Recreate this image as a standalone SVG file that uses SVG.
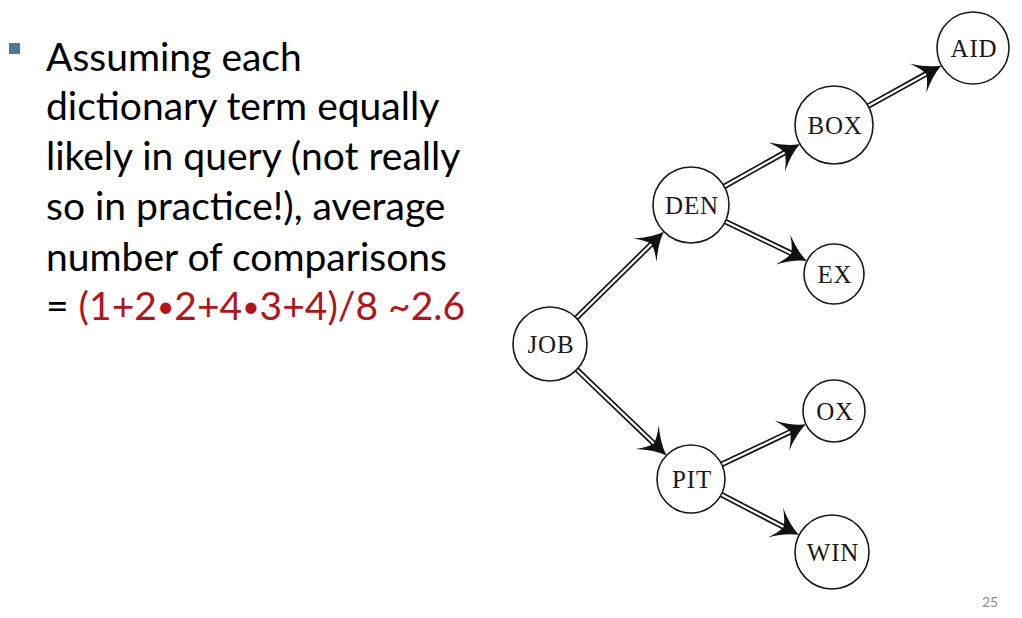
<svg xmlns="http://www.w3.org/2000/svg" width="1022" height="618" viewBox="0 0 1022 618">
<style>
.body{font-family:Lato,"Open Sans",sans-serif;font-size:39px;fill:#000}
.red{fill:#b0161c}
.dot{font-size:30px;baseline-shift:3px}
.node circle{fill:#fff;stroke:#1a1a1a;stroke-width:1.6}
.node text{font-family:"Liberation Serif","DejaVu Serif",serif;font-size:25px;fill:#1a1a1a;text-anchor:middle;letter-spacing:0.8px}
.outer{stroke:#111;stroke-width:5.6;fill:none}
.inner{stroke:#fff;stroke-width:2.3;fill:none;marker-end:url(#ah)}
.pg{font-family:Lato,sans-serif;font-size:14px;fill:#8c8c8c}
</style>
<defs>
<marker id="ah" markerUnits="userSpaceOnUse" orient="auto" markerWidth="40" markerHeight="40" refX="0" refY="0" viewBox="-20 -12 22 24" overflow="visible">
<path d="M0,0 Q-7.5,-2.5 -16,-10 Q-11.5,-4 -10.5,0 Q-11.5,4 -16,10 Q-7.5,2.5 0,0 Z" fill="#111"/>
</marker>
</defs>
<rect width="1022" height="618" fill="#fff"/>
<rect x="9" y="43" width="11" height="11" fill="#4d7a92"/>
<g id="text">
<text class="body" x="46" y="71">Assuming each</text>
<text class="body" x="46" y="120">dictionary term equally</text>
<text class="body" x="46" y="170">likely in query (not really</text>
<text class="body" x="46" y="220">so in practice!), average</text>
<text class="body" x="46" y="271">number of comparisons</text>
<text class="body" x="46" y="320">= <tspan class="red">(1+2<tspan class="dot">•</tspan>2+4<tspan class="dot">•</tspan>3+4)/8 ~2.6</tspan></text>
</g>
<g id="connectors">
<line class="outer" x1="576.3" y1="318" x2="655" y2="240.5"/>
<line class="inner" x1="576.3" y1="318" x2="663.9" y2="231.7"/>
<line class="outer" x1="576.7" y1="369.6" x2="658" y2="447.5"/>
<line class="inner" x1="576.7" y1="369.6" x2="666.5" y2="455.5"/>
<line class="outer" x1="724.2" y1="186.5" x2="791" y2="149"/>
<line class="inner" x1="724.2" y1="186.5" x2="800" y2="144"/>
<line class="outer" x1="725.2" y1="221.5" x2="798" y2="256.5"/>
<line class="inner" x1="725.2" y1="221.5" x2="807" y2="261"/>
<line class="outer" x1="868.1" y1="106.1" x2="933" y2="70"/>
<line class="inner" x1="868.1" y1="106.1" x2="941.5" y2="65.4"/>
<line class="outer" x1="721.7" y1="464.4" x2="798" y2="428.3"/>
<line class="inner" x1="721.7" y1="464.4" x2="806" y2="424.3"/>
<line class="outer" x1="721.2" y1="494.6" x2="790.5" y2="530.5"/>
<line class="inner" x1="721.2" y1="494.6" x2="799.1" y2="535"/>
</g>
<g id="JOB" class="node"><circle cx="550" cy="344" r="37"/><text x="551" y="353">JOB</text></g>
<g id="DEN" class="node"><circle cx="691" cy="205" r="38"/><text x="692" y="214">DEN</text></g>
<g id="PIT" class="node"><circle cx="691" cy="479" r="34"/><text x="692" y="488">PIT</text></g>
<g id="BOX" class="node"><circle cx="834" cy="125" r="39"/><text x="835" y="134">BOX</text></g>
<g id="AID" class="node"><circle cx="973" cy="48" r="36"/><text x="974" y="57">AID</text></g>
<g id="EX" class="node"><circle cx="834" cy="274" r="30"/><text x="835" y="283">EX</text></g>
<g id="OX" class="node"><circle cx="834" cy="411" r="31"/><text x="835" y="420">OX</text></g>
<g id="WIN" class="node"><circle cx="832" cy="552" r="37"/><text x="833" y="561">WIN</text></g>
<text class="pg" x="982" y="607">25</text>
</svg>
